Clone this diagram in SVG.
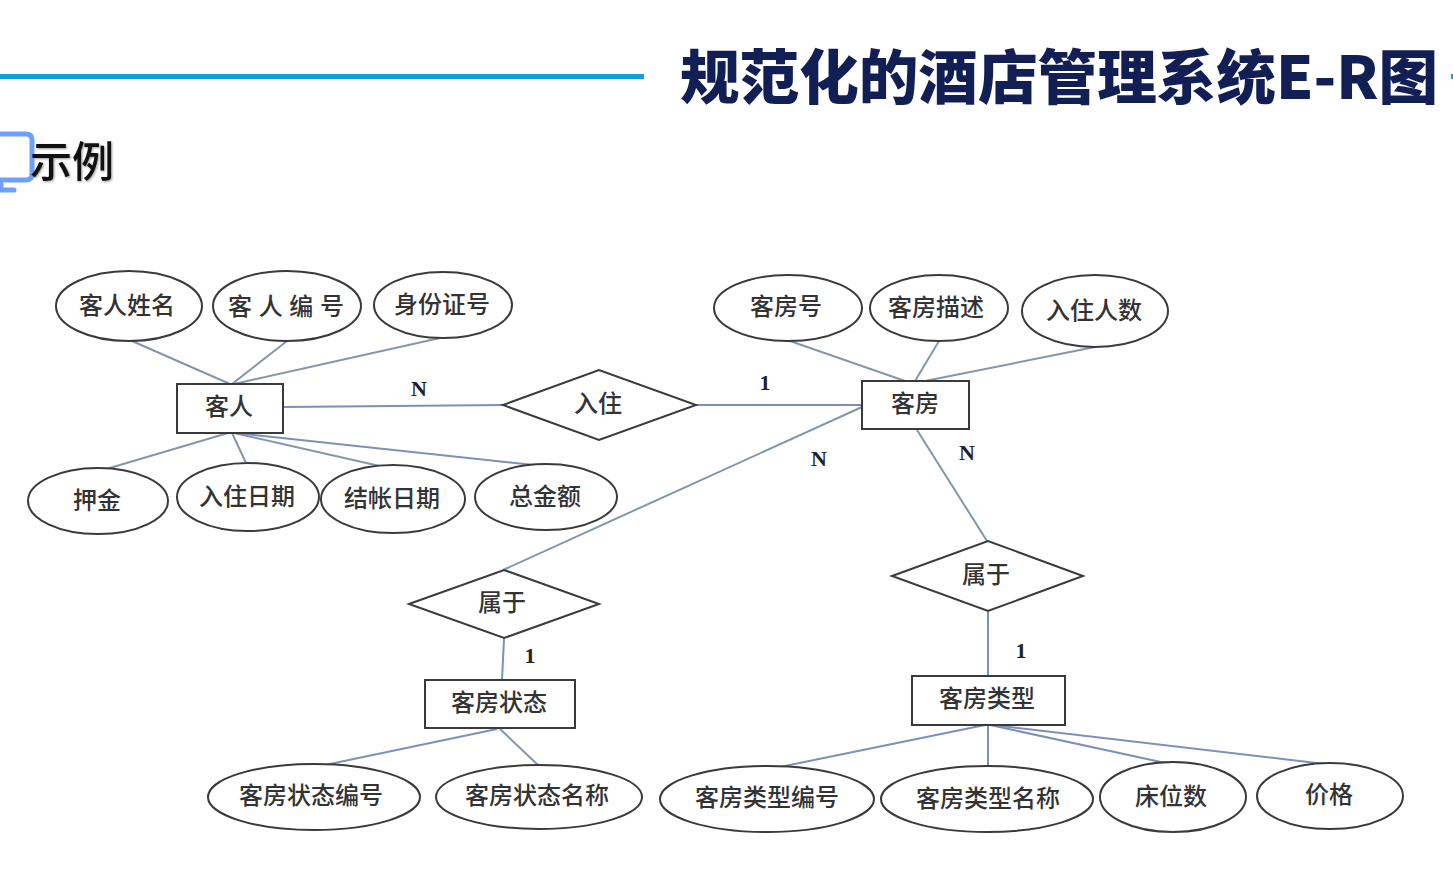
<svg xmlns="http://www.w3.org/2000/svg" width="1453" height="870" viewBox="0 0 1453 870">
<style>
.n ellipse,.n rect,.n polygon{fill:#fff;stroke:#3a3a3a;stroke-width:2}
.n text{font-family:"Liberation Serif","Noto Sans CJK SC",serif;font-size:24px;font-weight:500;fill:#333;text-anchor:middle;dominant-baseline:central}
#connectors line{stroke:#8496a8;stroke-width:2}
#connectors line.b{stroke:#7d90b8}
.c{font-family:"Liberation Serif",serif;font-weight:bold;font-size:22px;fill:#222;text-anchor:middle}
</style>
<rect width="1453" height="870" fill="#fff"/>
<rect x="0" y="74" width="644" height="5" fill="#0d9fe3"/>
<rect x="1451" y="74" width="2" height="5" fill="#0d9fe3"/>
<text x="680" y="99" font-family="'Noto Sans CJK SC',sans-serif" font-weight="900" font-size="59.6" fill="#121f55">规范化的酒店管理系统E-R图</text>
<path d="M-6 134H26Q32 134 32 140V174Q32 180 26 180H-6" fill="none" stroke="#6ea0ff" stroke-width="5"/>
<path d="M1 184V190H14" fill="none" stroke="#6ea0ff" stroke-width="5" stroke-linecap="round"/>
<text x="30" y="177" font-family="'Noto Sans CJK SC',sans-serif" font-size="42" font-weight="500" fill="#111" style="filter:drop-shadow(1px 1px 1px #999)">示例</text>
<g id="connectors">
<line x1="132" y1="341" x2="230" y2="384"/><line x1="287" y1="341" x2="232" y2="384"/><line x1="440" y1="338" x2="234" y2="384"/>
<line x1="103" y1="470" x2="228" y2="433"/><line x1="246" y1="463" x2="232" y2="433"/><line x1="384" y1="467" x2="234" y2="433"/><line class="b" x1="534" y1="465" x2="236" y2="433"/>
<line class="b" x1="284" y1="407" x2="503" y2="405"/><line class="b" x1="696" y1="405" x2="862" y2="405"/>
<line x1="790" y1="341" x2="905" y2="381"/><line x1="939" y1="341" x2="915" y2="381"/><line x1="1095" y1="347" x2="925" y2="381"/>
<line x1="862" y1="407" x2="503" y2="570"/><line x1="917" y1="430" x2="987" y2="541"/>
<line class="b" x1="988" y1="611" x2="988" y2="676"/><line class="b" x1="504" y1="639" x2="502" y2="680"/>
<line class="b" x1="497" y1="729" x2="325" y2="765"/><line x1="500" y1="729" x2="538" y2="765"/>
<line class="b" x1="985" y1="725" x2="775" y2="768"/><line class="b" x1="988" y1="725" x2="988" y2="768"/><line class="b" x1="990" y1="725" x2="1170" y2="764"/><line class="b" x1="992" y1="725" x2="1325" y2="764"/>
</g>
<g id="e1" class="n"><ellipse cx="129" cy="306" rx="73" ry="35"/><text x="127" y="306">客人姓名</text></g>
<g id="e2" class="n"><ellipse cx="287" cy="306" rx="74" ry="35"/><text x="286" y="307" textLength="116">客人编号</text></g>
<g id="e3" class="n"><ellipse cx="443" cy="305" rx="69" ry="33"/><text x="442" y="305">身份证号</text></g>
<g id="customer" class="n"><rect x="177" y="384" width="106" height="49"/><text x="229" y="407">客人</text></g>
<g id="e4" class="n"><ellipse cx="98" cy="501" rx="70" ry="33"/><text x="97" y="501">押金</text></g>
<g id="e5" class="n"><ellipse cx="248" cy="497" rx="71" ry="34"/><text x="247" y="497">入住日期</text></g>
<g id="e6" class="n"><ellipse cx="393" cy="499" rx="72" ry="34"/><text x="392" y="499">结帐日期</text></g>
<g id="e7" class="n"><ellipse cx="546" cy="497" rx="71" ry="33"/><text x="545" y="497">总金额</text></g>
<g id="stay" class="n"><polygon points="503,405 599,370 696,405 599,440"/><text x="598" y="404">入住</text></g>
<g id="e8" class="n"><ellipse cx="788" cy="308" rx="74" ry="33"/><text x="786" y="307">客房号</text></g>
<g id="e9" class="n"><ellipse cx="939" cy="308" rx="69" ry="33"/><text x="936" y="308">客房描述</text></g>
<g id="e10" class="n"><ellipse cx="1095" cy="311" rx="73" ry="36"/><text x="1094" y="311">入住人数</text></g>
<g id="room" class="n"><rect x="862" y="381" width="107" height="48"/><text x="915" y="404">客房</text></g>
<g id="belong1" class="n"><polygon points="409,604 504,570 599,604 504,638"/><text x="502" y="603">属于</text></g>
<g id="belong2" class="n"><polygon points="892,576 988,541 1083,576 988,611"/><text x="986" y="575">属于</text></g>
<g id="status" class="n"><rect x="425" y="680" width="150" height="48"/><text x="499" y="703">客房状态</text></g>
<g id="type" class="n"><rect x="912" y="676" width="153" height="49"/><text x="987" y="699">客房类型</text></g>
<g id="e11" class="n"><ellipse cx="314" cy="797" rx="106" ry="33"/><text x="311" y="796">客房状态编号</text></g>
<g id="e12" class="n"><ellipse cx="539" cy="797" rx="103" ry="32"/><text x="537" y="796">客房状态名称</text></g>
<g id="e13" class="n"><ellipse cx="767" cy="799" rx="107" ry="33"/><text x="767" y="798">客房类型编号</text></g>
<g id="e14" class="n"><ellipse cx="987" cy="799" rx="106" ry="33"/><text x="988" y="799">客房类型名称</text></g>
<g id="e15" class="n"><ellipse cx="1173" cy="797" rx="73" ry="35"/><text x="1171" y="797">床位数</text></g>
<g id="e16" class="n"><ellipse cx="1330" cy="796" rx="73" ry="33"/><text x="1329" y="795">价格</text></g>
<text class="c" x="419" y="396">N</text><text class="c" x="765" y="390">1</text><text class="c" x="819" y="466">N</text><text class="c" x="967" y="460">N</text><text class="c" x="530" y="663">1</text><text class="c" x="1021" y="658">1</text>
</svg>
